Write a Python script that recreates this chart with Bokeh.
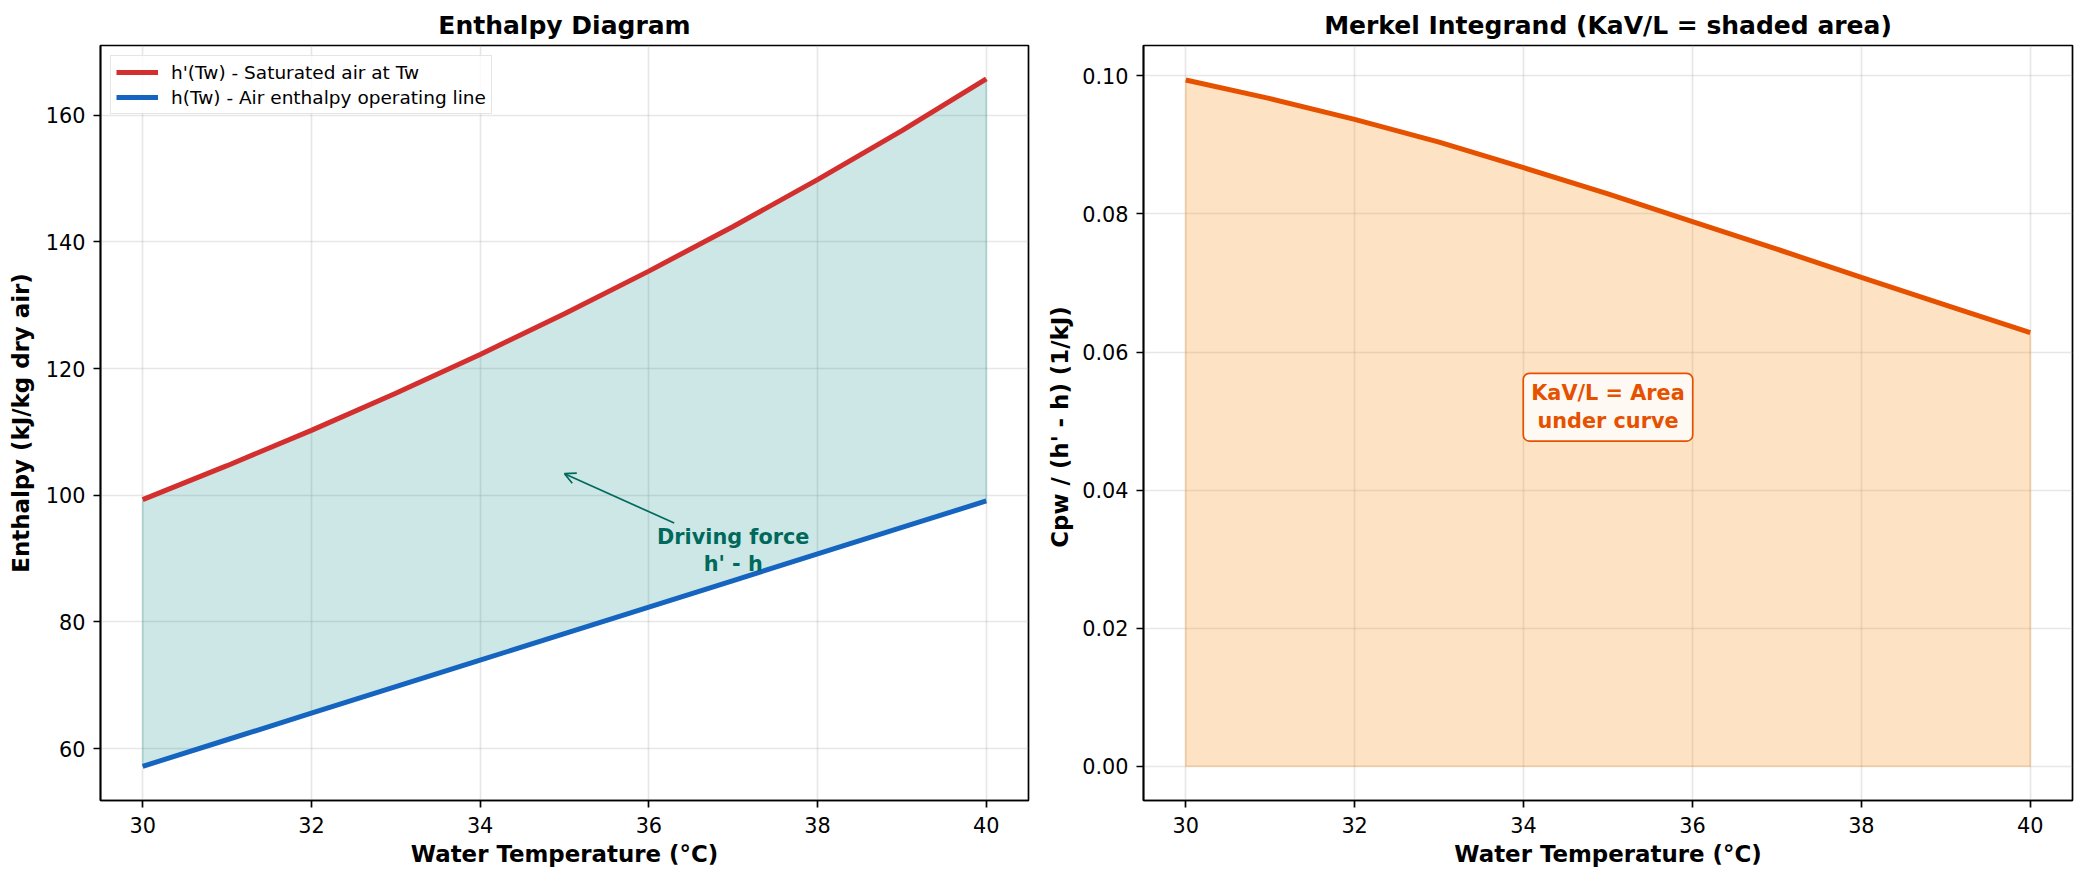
from bokeh.plotting import figure
from bokeh.layouts import row, column
from bokeh.models import (Label, Arrow, OpenHead, FixedTicker, NumeralTickFormatter,
                          Range1d, Legend, LegendItem, Spacer)
from bokeh.embed import file_html
from bokeh.resources import INLINE

# ---------------- data ----------------
T_WATER = [30, 31, 32, 33, 34, 35, 36, 37, 38, 39, 40]
H_SAT = [99.30, 104.66, 110.24, 116.10, 122.23, 128.65, 135.38, 142.43, 149.82, 157.57, 165.72]
H_AIR = [57.20, 61.39, 65.58, 69.77, 73.96, 78.15, 82.34, 86.53, 90.72, 94.91, 99.10]
MERKEL = [0.0994, 0.0967, 0.0937, 0.0904, 0.0867, 0.0829, 0.0789, 0.0749, 0.0708, 0.0668, 0.0628]
ZERO = [0.0] * len(T_WATER)

X_TICKS = [30, 32, 34, 36, 38, 40]
Y1_TICKS = [60, 80, 100, 120, 140, 160]
Y2_TICKS = [0.0, 0.02, 0.04, 0.06, 0.08, 0.10]

LEG_SAT = "h'(Tw) - Saturated air at Tw"
LEG_AIR = "h(Tw) - Air enthalpy operating line"
ANN_TEXT = "Driving force\nh' - h"
ANN_XY = (37.0, 91.3)
ANN_TAIL = (36.3, 95.6)
ANN_TIP_T = 35
KAV_TEXT = "KaV/L = Area\nunder curve"
KAV_XY = (35.0, 0.052)

FONT = "DejaVu Sans"
RED = "#d32f2f"
BLUE = "#1565c0"
TEAL = "#00897b"
TEAL_DARK = "#00695c"
ORANGE = "#e65100"
ORANGE_FILL = "#f98a10"


def style(p, title):
    p.title.text = title
    p.title.align = "center"
    p.title.text_font = FONT
    p.title.text_font_size = "25px"
    p.title.text_font_style = "bold"
    p.title.text_color = "black"
    p.title.standoff = 12
    p.outline_line_color = "black"
    p.outline_line_width = 1.7
    p.outline_line_alpha = 1.0
    for ax in (p.xaxis[0], p.yaxis[0]):
        ax.axis_line_color = "black"
        ax.axis_line_width = 1.7
        ax.major_tick_line_color = "black"
        ax.major_tick_line_width = 1.7
        ax.major_tick_out = 7
        ax.major_tick_in = 0
        ax.minor_tick_line_color = None
        ax.major_label_text_font = FONT
        ax.major_label_text_font_size = "20.8px"
        ax.major_label_text_color = "black"
        ax.axis_label_text_font = FONT
        ax.axis_label_text_font_size = "22.9px"
        ax.axis_label_text_font_style = "bold"
        ax.axis_label_text_color = "black"
    p.xaxis.major_label_standoff = 9
    p.xaxis.axis_label_standoff = 5
    p.yaxis.major_label_standoff = 8
    p.xaxis.ticker = FixedTicker(ticks=X_TICKS)
    for g in (p.xgrid[0], p.ygrid[0]):
        g.grid_line_color = "#b0b0b0"
        g.grid_line_alpha = 0.3
        g.grid_line_width = 1.67
    p.background_fill_color = "white"
    p.border_fill_color = "white"


# ---------------- left panel ----------------
p1 = figure(frame_width=928, frame_height=755, output_backend="svg", toolbar_location=None,
            x_range=Range1d(29.5, 40.5), y_range=Range1d(51.8, 171.0),
            min_border_left=100, min_border_right=16, min_border_top=0, min_border_bottom=10)
style(p1, "Enthalpy Diagram")
p1.yaxis.axis_label_standoff = 9
p1.yaxis.ticker = FixedTicker(ticks=Y1_TICKS)
p1.xaxis.axis_label = "Water Temperature (°C)"
p1.yaxis.axis_label = "Enthalpy (kJ/kg dry air)"

p1.patch(T_WATER + T_WATER[::-1], H_SAT + H_AIR[::-1], fill_color=TEAL, fill_alpha=0.2,
         line_color=TEAL, line_alpha=0.2, line_width=1.5)
r_sat = p1.line(T_WATER, H_SAT, line_color=RED, line_width=5)
r_air = p1.line(T_WATER, H_AIR, line_color=BLUE, line_width=5)

legend = Legend(items=[LegendItem(label=LEG_SAT, renderers=[r_sat]),
                       LegendItem(label=LEG_AIR, renderers=[r_air])],
                location="top_left")
legend.margin = 10
legend.padding = 5
legend.spacing = 3
legend.glyph_width = 42
legend.glyph_height = 22
legend.label_height = 22
legend.label_standoff = 13
legend.label_text_font = FONT
legend.label_text_font_size = "18.5px"
legend.label_text_color = "black"
legend.border_line_color = "#cccccc"
legend.border_line_width = 1.5
legend.background_fill_color = "white"
legend.background_fill_alpha = 0.8
p1.add_layout(legend)

idx = T_WATER.index(ANN_TIP_T)
tip_y = (H_SAT[idx] + H_AIR[idx]) / 2.0
p1.add_layout(Arrow(end=OpenHead(size=11, line_color=TEAL_DARK, line_width=1.7),
                    x_start=ANN_TAIL[0], y_start=ANN_TAIL[1],
                    x_end=ANN_TIP_T, y_end=tip_y,
                    line_color=TEAL_DARK, line_width=1.7))
p1.add_layout(Label(x=ANN_XY[0], y=ANN_XY[1], text=ANN_TEXT, text_align="center",
                    text_baseline="middle", text_font=FONT, text_font_size="20.8px",
                    text_font_style="bold", text_color=TEAL_DARK, text_line_height=1.15))

# ---------------- right panel ----------------
p2 = figure(frame_width=929, frame_height=755, output_backend="svg", toolbar_location=None,
            x_range=Range1d(29.5, 40.5), y_range=Range1d(-0.00497, 0.1044),
            min_border_left=90, min_border_right=5, min_border_top=0, min_border_bottom=10)
style(p2, "Merkel Integrand (KaV/L = shaded area)")
p2.yaxis.axis_label_standoff = 6
p2.yaxis.ticker = FixedTicker(ticks=Y2_TICKS)
p2.yaxis.formatter = NumeralTickFormatter(format="0.00")
p2.xaxis.axis_label = "Water Temperature (°C)"
p2.yaxis.axis_label = "Cpw / (h' - h)  (1/kJ)"

p2.patch(T_WATER + T_WATER[::-1], MERKEL + ZERO[::-1], fill_color=ORANGE_FILL, fill_alpha=0.25,
         line_color=ORANGE_FILL, line_alpha=0.25, line_width=1.5)
p2.line(T_WATER, MERKEL, line_color=ORANGE, line_width=5)
p2.add_layout(Label(x=KAV_XY[0], y=KAV_XY[1], text=KAV_TEXT, text_align="center",
                    text_baseline="middle", text_font=FONT, text_font_size="20.8px",
                    text_font_style="bold", text_color=ORANGE, text_line_height=1.15,
                    background_fill_color="white", background_fill_alpha=0.8,
                    border_line_color=ORANGE, border_line_width=1.7,
                    padding=8, border_radius=6))

layout = column(Spacer(height=2), row(p1, p2))
open("out.html", "w").write(file_html(layout, INLINE))
